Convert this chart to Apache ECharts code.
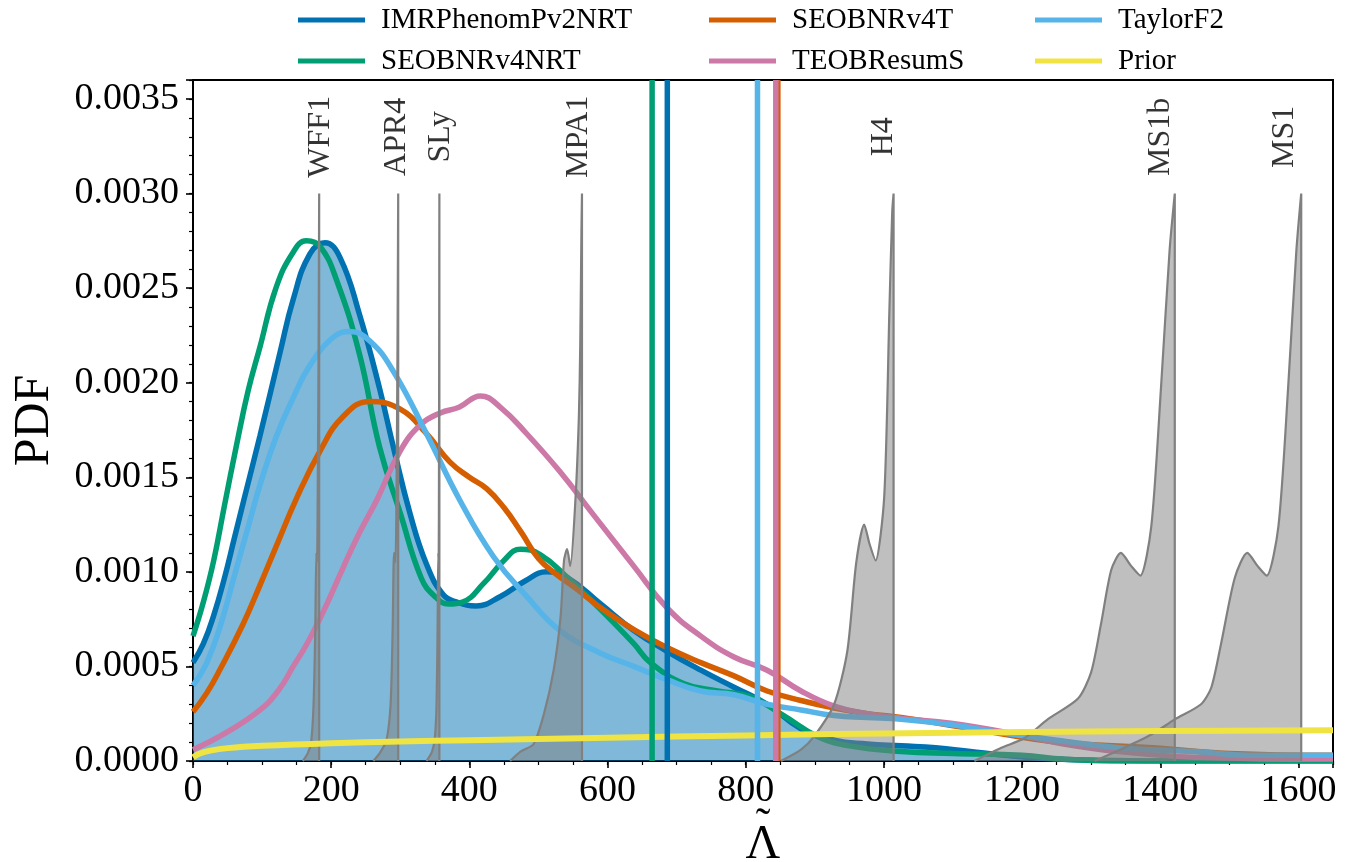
<!DOCTYPE html>
<html>
<head>
<meta charset="utf-8">
<script src="https://cdn.jsdelivr.net/npm/echarts@6.0.0/dist/echarts.min.js"></script>
<style>
  html, body { margin: 0; padding: 0; background: #fff; }
  #chart { width: 1363px; height: 862px; }
</style>
</head>
<body>
<div id="chart"></div>
<script>
// posterior PDFs of Lambda-tilde, [lambda, pdf]
const imrPdf = [[0,0.00052],[15,0.00062],[30,0.00077],[45,0.00096],[60,0.00118],[75,0.0014],[97,0.00172],[126,0.00216],[145,0.00244],[169,0.00268],[191,0.00274],[213,0.00266],[241,0.00236],[270,0.00197],[290,0.00166],[314,0.00131],[338,0.00104],[362,0.00088],[382,0.00084],[410,0.00082],[445,0.00087],[480,0.00095],[512,0.001],[542,0.00097],[590,0.00083],[638,0.00069],[686,0.00058],[735,0.00048],[783,0.00039],[831,0.0003],[880,0.00017],[928,0.00011],[976,0.00009],[1025,0.00008],[1075,0.00007],[1125,0.00005],[1175,0.00003],[1225,0.000015],[1300,0.000005],[1400,0],[1650,0]];
const nrtPdf = [[0,0.00066],[15,0.00084],[30,0.00106],[45,0.00134],[63,0.00167],[80,0.00196],[97,0.00219],[120,0.0025],[145,0.00269],[164,0.00275],[184,0.00272],[208,0.00254],[241,0.00215],[270,0.00166],[300,0.00131],[330,0.00097],[350,0.00087],[370,0.00083],[390,0.00084],[421,0.00094],[450,0.00106],[474,0.00112],[503,0.00109],[542,0.00097],[590,0.0008],[638,0.00062],[662,0.00052],[710,0.00041],[759,0.00037],[807,0.00034],[855,0.00024],[904,0.00013],[950,0.00008],[1025,0.00005],[1100,0.00004],[1200,0.00003],[1260,0.00001],[1350,0],[1650,0]];
const v4tPdf = [[0,0.00026],[20,0.00036],[40,0.00049],[72,0.00072],[97,0.00093],[121,0.00114],[150,0.00139],[184,0.00164],[217,0.00182],[256,0.0019],[300,0.00186],[338,0.00173],[372,0.00158],[400,0.0015],[425,0.00144],[450,0.00134],[475,0.00121],[500,0.00107],[525,0.00099],[555,0.00091],[590,0.00081],[640,0.00069],[686,0.0006],[735,0.00052],[783,0.00045],[831,0.00037],[880,0.00032],[928,0.00028],[976,0.00025],[1025,0.00023],[1145,0.00016],[1250,0.0001],[1390,0.00007],[1500,0.00004],[1650,0.00003]];
const teobPdf = [[0,0.00006],[48,0.00015],[97,0.00027],[125,0.00038],[145,0.0005],[165,0.00062],[190,0.0008],[217,0.00102],[240,0.0012],[266,0.00138],[300,0.00164],[330,0.00178],[358,0.00184],[385,0.00187],[416,0.00193],[445,0.00187],[483,0.00173],[531,0.00153],[580,0.0013],[638,0.00103],[686,0.00081],[735,0.00066],[783,0.00055],[831,0.00048],[880,0.00037],[928,0.00029],[976,0.00025],[1025,0.000225],[1097,0.0002],[1194,0.00014],[1260,0.00009],[1340,0.00005],[1450,0.00002],[1650,0.00001]];
const tf2Pdf = [[0,0.0004],[20,0.00052],[40,0.00072],[60,0.00098],[80,0.00124],[97,0.00146],[120,0.00171],[145,0.00192],[169,0.00209],[203,0.00224],[227,0.00227],[256,0.00222],[290,0.00206],[338,0.00173],[386,0.00138],[435,0.00108],[483,0.00087],[531,0.00069],[590,0.00057],[638,0.0005],[686,0.00043],[735,0.00037],[783,0.00035],[831,0.0003],[880,0.00027],[928,0.00024],[976,0.00023],[1025,0.00022],[1100,0.00019],[1150,0.00016],[1250,0.00011],[1340,0.00007],[1450,0.00005],[1530,0.00003],[1650,0.00003]];
const priorPdf = [[0,0.00002],[10,0.00004],[25,0.000055],[50,0.000068],[100,0.00008],[200,0.000094],[300,0.000103],[400,0.00011],[600,0.000123],[800,0.000135],[1000,0.000146],[1200,0.000153],[1400,0.000158],[1650,0.000163]];

// 90% upper bounds (vertical lines)
const upperNames = ['IMRPhenomPv2NRT', 'SEOBNRv4NRT', 'SEOBNRv4T', 'TEOBResumS', 'TaylorF2'];
const upperVals = [686.5, 664.5, 846.5, 843.5, 817];

// EOS predictions (grey)
const wff1 = [[159,0],[166,0.00004],[171,0.0001],[174.5,0.0003],[177,0.0007],[178.5,0.0011],[179.5,0.00105],[180.5,0.0014],[181.8,0.0022],[182.6,0.003],[182.6,0]];
const apr4 = [[261,0],[270,0.00004],[280,0.00011],[286,0.0003],[289,0.0007],[291,0.0011],[293,0.00105],[294.5,0.0014],[296,0.0022],[297,0.003],[297,0]];
const sly = [[338,0],[346,0.00005],[350,0.00012],[352.5,0.0003],[354,0.0007],[355,0.0011],[355.6,0.00105],[356,0.0015],[356.3,0.0022],[356.6,0.003],[356.6,0]];
const mpa1 = [[459,0],[474,0.00005],[493,0.00009],[508,0.00025],[522,0.00048],[532,0.00076],[537,0.00106],[541.5,0.00112],[546,0.00103],[553.5,0.00138],[558.5,0.00182],[560.5,0.0022],[562.2,0.0028],[563,0.003],[563,0]];
const h4 = [[851,0],[880,0.00006],[899,0.00013],[928,0.0003],[947,0.00058],[960,0.00105],[971.5,0.00125],[979,0.00115],[988,0.00106],[1000.5,0.0014],[1008,0.00239],[1012,0.0029],[1014,0.003],[1014,0]];
const ms1b = [[1131,0],[1170,0.00007],[1203,0.00012],[1237,0.00022],[1281,0.00033],[1300,0.00047],[1314,0.00072],[1329,0.00101],[1343,0.0011],[1358,0.00103],[1371,0.00098],[1387,0.00124],[1401,0.00197],[1413.5,0.0027],[1421,0.003],[1421,0]];
const ms1 = [[1305,0],[1348,0.00007],[1387,0.00014],[1421,0.00022],[1459,0.0003],[1474,0.00039],[1488,0.00062],[1508,0.00097],[1526,0.0011],[1541,0.00103],[1554,0.00098],[1571,0.00124],[1585,0.00197],[1597,0.0027],[1604,0.003],[1604,0]];
const eosNames = ['WFF1', 'APR4', 'SLy', 'MPA1', 'H4', 'MS1b', 'MS1'];
const eosLabelX = [184, 295, 358, 558, 1000, 1401, 1580];
const eosLabelY = 0.0033;

const FONT = '"Liberation Serif", "DejaVu Serif", serif';

const chart = echarts.init(document.getElementById('chart'));

const curves = [
  { name: 'IMRPhenomPv2NRT', data: imrPdf, color: '#0072B2', fill: true },
  { name: 'SEOBNRv4NRT', data: nrtPdf, color: '#009E73' },
  { name: 'SEOBNRv4T', data: v4tPdf, color: '#D55E00' },
  { name: 'TEOBResumS', data: teobPdf, color: '#CC79A7' },
  { name: 'TaylorF2', data: tf2Pdf, color: '#56B4E9' }
];
const colorOf = {};
curves.forEach(c => { colorOf[c.name] = c.color; });

const series = [];
curves.forEach(c => {
  series.push({
    name: c.name, type: 'line', data: c.data, smooth: 0.45, showSymbol: false, z: 2,
    itemStyle: { color: c.color },
    lineStyle: { color: c.color, width: 5.5 },
    areaStyle: c.fill ? { color: 'rgba(0,114,178,0.5)', opacity: 1 } : undefined
  });
});

[wff1, apr4, sly, mpa1, h4, ms1b, ms1].forEach((d, i) => {
  series.push({
    name: 'eos_' + eosNames[i], type: 'line', data: d, smooth: 0.25, showSymbol: false, z: 3,
    lineStyle: { color: '#808080', width: 2.2 },
    areaStyle: { color: 'rgba(128,128,128,0.5)', opacity: 1 }
  });
});

series.push({
  name: 'Prior', type: 'line', data: priorPdf, smooth: 0.35, showSymbol: false, z: 4,
  itemStyle: { color: '#F0E442' },
  lineStyle: { color: '#F0E442', width: 6 }
});

upperNames.forEach((n, i) => {
  series.push({
    name: 'ul_' + n, type: 'line', data: [[upperVals[i], 0], [upperVals[i], 0.0036]],
    showSymbol: false, z: 5,
    lineStyle: { color: colorOf[n], width: 5.5 }
  });
});

series.push({
  name: 'eosLabels', type: 'scatter', symbolSize: 0, z: 6,
  data: eosNames.map((n, i) => [eosLabelX[i], eosLabelY, n]),
  label: {
    show: true, position: 'inside', rotate: 90,
    formatter: p => p.data[2],
    fontFamily: FONT, fontSize: 32, color: '#000'
  }
});

function legendBlock(left, names) {
  return {
    orient: 'vertical', left: left, top: 0, icon: 'rect',
    itemWidth: 67, itemHeight: 5, itemGap: 11, selectedMode: false,
    data: names,
    textStyle: { fontFamily: FONT, fontSize: 29, color: '#000', lineHeight: 30, padding: [0, 0, 0, 11] }
  };
}

const axisText = { fontFamily: FONT, fontSize: 38, color: '#000' };

const option = {
  animation: false,
  backgroundColor: '#fff',
  legend: [
    legendBlock(293, ['IMRPhenomPv2NRT', 'SEOBNRv4NRT']),
    legendBlock(704, ['SEOBNRv4T', 'TEOBResumS']),
    legendBlock(1030, ['TaylorF2', 'Prior'])
  ],
  grid: {
    left: 193, right: 30, top: 80, bottom: 101, containLabel: false, outerBoundsMode: 'none',
    show: true, borderColor: '#000', borderWidth: 2
  },
  xAxis: [
    {
      type: 'value', min: 0, max: 1650, interval: 200,
      name: '{t|˜}\n{l|Λ}', nameLocation: 'middle', nameGap: 62, nameMoveOverlap: false,
      nameTextStyle: {
        color: '#000', fontFamily: FONT,
        rich: {
          t: { fontFamily: FONT, fontSize: 44, lineHeight: 6, color: '#000', align: 'center' },
          l: { fontFamily: FONT, fontSize: 48, lineHeight: 32, color: '#000', align: 'center' }
        }
      },
      axisLine: { show: true, lineStyle: { color: '#000', width: 2 } },
      axisTick: { show: true, length: 7, lineStyle: { color: '#000', width: 1.6 } },
      splitLine: { show: false },
      axisLabel: Object.assign({ margin: 11, formatter: v => (v % 200 === 0 ? String(v) : '') }, axisText)
    },
    {
      type: 'value', min: 0, max: 1650, interval: 50, position: 'bottom', offset: 0,
      axisLine: { show: false },
      axisTick: { show: true, length: 4, lineStyle: { color: '#000', width: 1.2 } },
      axisLabel: { show: false }, splitLine: { show: false }
    }
  ],
  yAxis: [
    {
      type: 'value', min: 0, max: 0.0036, interval: 0.0005,
      name: 'PDF', nameLocation: 'middle', nameGap: 133,
      nameTextStyle: { fontFamily: FONT, fontSize: 50, color: '#000' },
      axisLine: { show: true, lineStyle: { color: '#000', width: 2 } },
      axisTick: { show: true, length: 7, lineStyle: { color: '#000', width: 1.6 } },
      splitLine: { show: false },
      axisLabel: Object.assign({
        margin: 14,
        formatter: v => (Math.abs(v / 0.0005 - Math.round(v / 0.0005)) < 1e-6 ? v.toFixed(4) : '')
      }, axisText)
    },
    {
      type: 'value', min: 0, max: 0.0036, interval: 0.0001, position: 'left', offset: 0,
      axisLine: { show: false },
      axisTick: { show: true, length: 4, lineStyle: { color: '#000', width: 1.2 } },
      axisLabel: { show: false }, splitLine: { show: false }
    }
  ],
  series: series
};

chart.setOption(option);
</script>
</body>
</html>
